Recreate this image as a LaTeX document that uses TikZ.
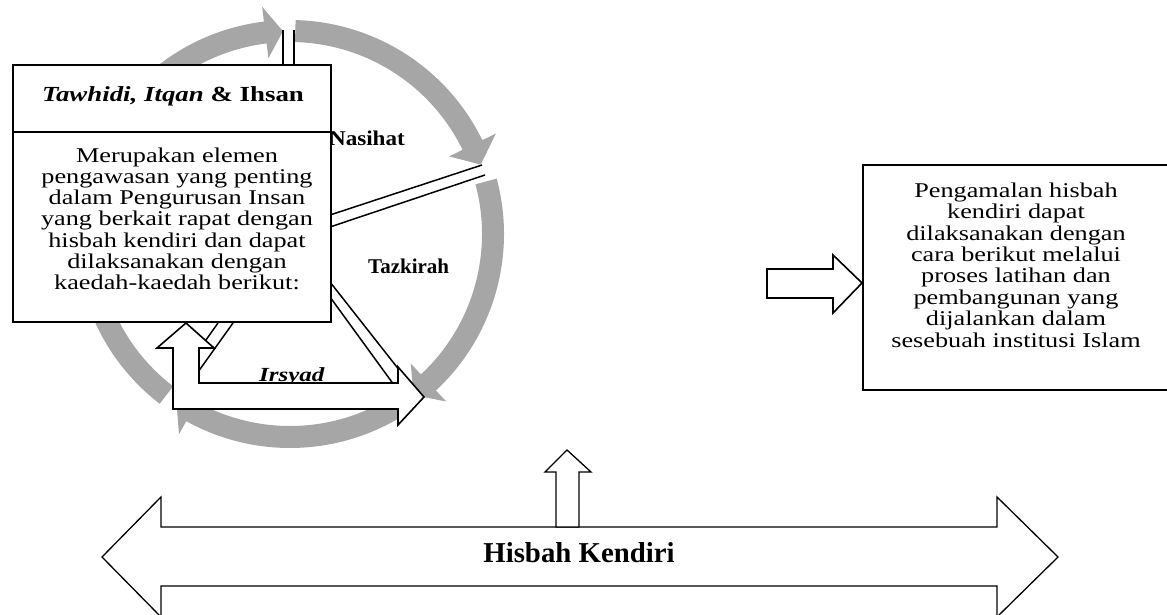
\documentclass[tikz,border=0pt]{standalone}
\usepackage{fontspec}
\setmainfont{Liberation Serif}
\newfontfamily\boxfont[FakeStretch=1.25]{Liberation Serif}
\newfontfamily\labelfont[FakeStretch=1.1]{Liberation Serif}
\definecolor{ringgray}{RGB}{166,166,166}
% gray arc arrow: start angle, head-base angle, tip angle
\newcommand\ringarrow[3]{%
  \fill[ringgray, shift={(290,381)}] (#1:192) arc[start angle=#1, end angle=#2, radius=192]
    -- (#2:177) -- (#3:203) -- (#2:229) -- (#2:214)
    arc[start angle=#2, end angle=#1, radius=214] -- cycle;}
\tikzset{
  boxstyle/.style={draw, line width=2pt, fill=white, inner sep=0pt},
  spoke/.style={line width=1.5pt},
  blockarrow/.style={draw, line width=1.6pt, fill=white, line join=miter},
  bodytext/.style={font={\boxfont\fontsize{21}{21.2}\selectfont\lineskiplimit=-30pt}, align=center, inner sep=0pt},
}
\begin{document}
\begin{tikzpicture}[x=1pt,y=1pt]
\useasboundingbox (0,0) rectangle (1167,615);
% ring
\ringarrow{232.5}{97}{92}
\ringarrow{88.5}{26}{20}
\ringarrow{15}{-47}{-52.5}
\ringarrow{-57}{-119}{-124}
% spokes
\coordinate (c0) at (290,381);
\draw[spoke] (283,549) -- (283,585);
\draw[spoke] (294,549) -- (294,585);
\draw[spoke] (330,400) -- (482,450);
\draw[spoke] (330,388) -- (485,440);
\draw[spoke] (330,333) -- (400,244);
\draw[spoke] (330,318) -- (394,230);
\draw[spoke] (218,292) -- (201,268);
\draw[spoke] (233,292) -- (198,243);
% labels behind the box
\node[font={\labelfont\bfseries\fontsize{21}{21}\selectfont}, anchor=base east, inner sep=0pt] (nasihat) at (405,469) {Nasihat};
% left box
\node[boxstyle, minimum width=318pt, minimum height=257pt, anchor=south west] (leftbox) at (12,292) {};
\draw[line width=2pt] (leftbox.west |- 0,483) -- (leftbox.east |- 0,483);
\node[font={\boxfont\bfseries\fontsize{21.5}{22}\selectfont}, anchor=base, inner sep=0pt] (title) at (173,513) {\textit{Tawhidi, Itqan} \& Ihsan};
\node[bodytext, anchor=north] (body) at (177,467.5) {Merupakan elemen\\pengawasan yang penting\\dalam Pengurusan Insan\\yang berkait rapat dengan\\hisbah kendiri dan dapat\\dilaksanakan dengan\\kaedah-kaedah berikut:};
\node[font={\bfseries\fontsize{21}{21}\selectfont}, anchor=base west, inner sep=0pt] (tazkirah) at (368,341) {Tazkirah};
\node[font={\boxfont\bfseries\itshape\fontsize{20}{20}\selectfont}, anchor=base west, inner sep=0pt] (irsyad) at (259,233) {Irsyad};
% L-shaped double block arrow
\draw[blockarrow] (186,292) -- (214,267) -- (199,267) -- (199,232) -- (398,232) -- (398,248)
  -- (424,218) -- (398,190) -- (398,206) -- (173,206) -- (173,267) -- (157,267) -- cycle;
% right arrow and box
\draw[blockarrow] (767,346) -- (833,346) -- (833,360) -- (862,332) -- (833,302) -- (833,317) -- (767,317) -- cycle;
\node[boxstyle, minimum width=313pt, minimum height=225pt, anchor=south west] (rightbox) at (862,224) {};
\node[bodytext, font={\boxfont\fontsize{21}{21.4}\selectfont\lineskiplimit=-30pt}, anchor=north] (rtext) at (1016,432.5) {Pengamalan hisbah\\kendiri dapat\\dilaksanakan dengan\\cara berikut melalui\\proses latihan dan\\pembangunan yang\\dijalankan dalam\\sesebuah institusi Islam};
% bottom double arrow
\draw[blockarrow, line width=1.3pt] (102,58) -- (161,118) -- (161,88) -- (997,88) -- (997,118) -- (1058,58)
  -- (997,-2) -- (997,29) -- (161,29) -- (161,-2) -- cycle;
\node[font={\bfseries\fontsize{28.8}{29}\selectfont}, anchor=base, inner sep=0pt] (hisbah) at (579,52) {Hisbah Kendiri};
% up arrow
\draw[blockarrow, line width=1.3pt] (556,88) -- (556,143) -- (545,143) -- (567,165) -- (591,143) -- (579,143) -- (579,88) -- cycle;
\end{tikzpicture}
\end{document}
